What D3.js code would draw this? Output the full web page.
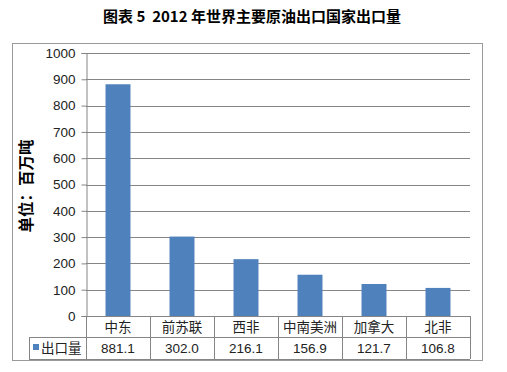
<!DOCTYPE html>
<html lang="zh">
<head>
<meta charset="UTF-8">
<title>2012年世界主要原油出口国家出口量</title>
<script src="https://d3js.org/d3.v7.min.js"></script>
<style>
    body { margin: 0; background: #fff; }
    svg { display: block; font-family: "Liberation Sans", Arial, "Noto Sans CJK SC", sans-serif; }
</style>
</head>
<body>
<div id="chart"></div>
<script>
    const regions = ["中东", "前苏联", "西非", "中南美洲", "加拿大", "北非"];
    const exports = [881.1, 302.0, 216.1, 156.9, 121.7, 106.8];
    const yTicks = [0, 100, 200, 300, 400, 500, 600, 700, 800, 900, 1000];
    const seriesName = "出口量";

    const W = 507, H = 372;
    const plot = { left: 86, right: 470, top: 53, bottom: 316 };
    const rowH = [316, 337, 359];
    const barColor = "#4f81bd";
    const lineColor = "#858585";

    const svg = d3.select("#chart").append("svg")
        .attr("width", W).attr("height", H);

    svg.append("text")
        .attr("x", 252).attr("y", 22)
        .attr("text-anchor", "middle")
        .attr("font-size", 15).attr("font-weight", "bold")
        .attr("font-family", "'Noto Sans CJK SC', sans-serif")
        .attr("xml:space", "preserve")
        .text("图表 5  2012 年世界主要原油出口国家出口量");

    // outer frame
    svg.append("rect")
        .attr("x", 12.5).attr("y", 43.5)
        .attr("width", 470).attr("height", 317)
        .attr("fill", "none").attr("stroke", "#9a9a9a");

    const x = d3.scaleBand()
        .domain(regions)
        .range([plot.left, plot.right])
        .paddingInner(0.61)
        .paddingOuter(0.305);

    const y = d3.scaleLinear()
        .domain([0, 1000])
        .range([plot.bottom, plot.top]);

    // grid lines
    svg.append("g").selectAll("line")
        .data(yTicks.filter(d => d > 0))
        .join("line")
        .attr("x1", plot.left).attr("x2", plot.right)
        .attr("y1", d => Math.round(y(d)) + 0.5).attr("y2", d => Math.round(y(d)) + 0.5)
        .attr("stroke", lineColor);

    // y axis
    const yAxis = svg.append("g")
        .attr("transform", `translate(${plot.left + 0.5},0)`)
        .call(d3.axisLeft(y).tickValues(yTicks).tickFormat(d3.format("d")).tickSize(5).tickPadding(6));
    yAxis.select(".domain").attr("stroke", lineColor);
    yAxis.selectAll(".tick line").attr("stroke", lineColor);
    yAxis.selectAll(".tick text")
        .attr("font-size", 13.5).attr("fill", "#222")
        .attr("font-family", "'Liberation Sans', Arial, sans-serif");

    // bars
    svg.append("g").selectAll("rect")
        .data(regions)
        .join("rect")
        .attr("x", d => x(d))
        .attr("y", (d, i) => y(exports[i]))
        .attr("width", x.bandwidth())
        .attr("height", (d, i) => y(0) - y(exports[i]))
        .attr("fill", barColor);

    // data table
    const step = x.step();
    const table = svg.append("g").attr("stroke", lineColor).attr("shape-rendering", "crispEdges");
    table.append("line").attr("x1", plot.left).attr("x2", plot.right).attr("y1", rowH[0] + 0.5).attr("y2", rowH[0] + 0.5);
    table.append("line").attr("x1", 29).attr("x2", plot.right).attr("y1", rowH[1] + 0.5).attr("y2", rowH[1] + 0.5);
    table.append("line").attr("x1", 29).attr("x2", plot.right).attr("y1", rowH[2] + 0.5).attr("y2", rowH[2] + 0.5);
    table.append("line").attr("x1", 29.5).attr("x2", 29.5).attr("y1", rowH[1]).attr("y2", rowH[2]);
    table.selectAll(".vcol")
        .data(d3.range(regions.length + 1))
        .join("line")
        .attr("x1", i => Math.round(plot.left + i * step) + 0.5)
        .attr("x2", i => Math.round(plot.left + i * step) + 0.5)
        .attr("y1", rowH[0]).attr("y2", rowH[2]);

    svg.append("g").selectAll("text")
        .data(regions)
        .join("text")
        .attr("x", d => x(d) + x.bandwidth() / 2)
        .attr("y", 332)
        .attr("text-anchor", "middle")
        .attr("font-size", 13.5).attr("fill", "#222")
        .attr("font-family", "'Noto Sans CJK SC', sans-serif")
        .text(d => d);

    svg.append("g").selectAll("text")
        .data(exports)
        .join("text")
        .attr("x", (d, i) => x(regions[i]) + x.bandwidth() / 2)
        .attr("y", 353)
        .attr("text-anchor", "middle")
        .attr("font-size", 13.5).attr("fill", "#222")
        .text(d => d.toFixed(1));

    // legend key in table
    svg.append("rect")
        .attr("x", 33).attr("y", 344)
        .attr("width", 6).attr("height", 6)
        .attr("fill", barColor);
    svg.append("text")
        .attr("x", 41).attr("y", 353)
        .attr("font-size", 13.5).attr("fill", "#222")
        .attr("font-family", "'Noto Sans CJK SC', sans-serif")
        .text(seriesName);

    // y axis title
    svg.append("text")
        .attr("transform", "translate(32,186) rotate(-90)")
        .attr("text-anchor", "middle")
        .attr("font-size", 15.5).attr("font-weight", "bold")
        .attr("font-family", "'Noto Sans CJK SC', sans-serif")
        .text("单位：百万吨");
</script>
</body>
</html>
